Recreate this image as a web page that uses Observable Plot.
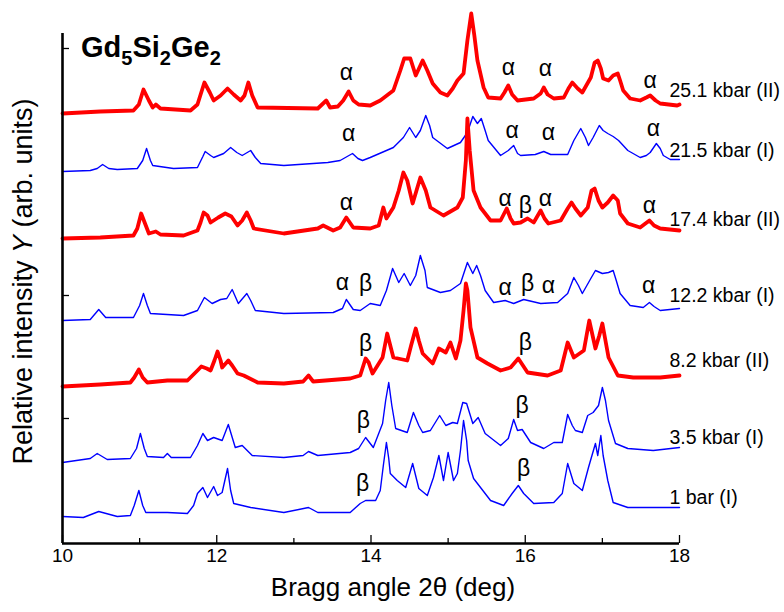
<!DOCTYPE html>
<html><head><meta charset="utf-8">
<script src="https://cdn.jsdelivr.net/npm/d3@7"></script>
<script src="https://cdn.jsdelivr.net/npm/@observablehq/plot@0.6"></script>
<style>body{margin:0;background:#fff}</style>
</head><body><div id="chart"></div>
<script>
// 2θ (deg), relative intensity (arb. units, stacked)
const t25 = [[10.00,430],[10.49,432],[10.92,433],[10.99,439],[11.05,454],[11.12,443],[11.17,436],[11.21,439],[11.27,435],[11.66,433],[11.75,439],[11.84,461],[11.91,451],[11.96,443],[12.05,448],[12.14,455],[12.22,449],[12.31,443],[12.36,448],[12.41,461],[12.46,448],[12.53,436],[13.31,435],[13.42,443],[13.47,436],[13.57,437],[13.64,443],[13.71,452],[13.77,443],[13.84,439],[13.99,438],[14.12,443],[14.29,453],[14.38,473],[14.43,485],[14.51,485],[14.58,468],[14.67,483],[14.73,473],[14.80,460],[14.90,451],[14.99,448],[15.06,455],[15.12,463],[15.20,470],[15.25,503],[15.30,530],[15.34,508],[15.38,483],[15.46,456],[15.52,446],[15.68,445],[15.73,451],[15.78,458],[15.83,449],[15.90,443],[16.11,445],[16.20,450],[16.24,456],[16.29,449],[16.37,445],[16.50,446],[16.56,455],[16.61,461],[16.68,455],[16.74,451],[16.85,466],[16.90,481],[16.94,483],[16.98,475],[17.01,465],[17.08,463],[17.14,468],[17.20,470],[17.23,463],[17.27,453],[17.36,445],[17.49,443],[17.57,446],[17.62,448],[17.69,443],[17.75,440],[17.97,438],[18.00,439]];
const t21 = [[10.00,372],[10.36,373],[10.45,375],[10.52,379],[10.60,375],[10.71,374],[10.97,375],[11.04,383],[11.09,395],[11.14,383],[11.17,378],[11.44,375],[11.75,376],[11.82,387],[11.85,392],[11.92,388],[11.96,386],[12.09,390],[12.18,396],[12.26,391],[12.33,388],[12.44,393],[12.50,386],[12.57,380],[12.87,378],[13.44,381],[13.60,383],[13.76,390],[13.83,385],[13.89,383],[13.99,386],[14.29,396],[14.42,406],[14.50,416],[14.58,406],[14.64,413],[14.71,428],[14.76,418],[14.80,406],[14.99,395],[15.16,401],[15.25,411],[15.32,427],[15.38,420],[15.43,425],[15.48,413],[15.52,403],[15.68,388],[15.78,393],[15.85,398],[15.90,390],[15.94,388],[16.13,389],[16.24,392],[16.33,389],[16.55,389],[16.63,403],[16.72,415],[16.78,406],[16.82,398],[16.88,406],[16.96,418],[17.01,413],[17.07,410],[17.14,407],[17.21,403],[17.33,393],[17.49,386],[17.57,388],[17.62,391],[17.70,400],[17.75,395],[17.79,388],[17.88,384],[18.00,384]];
const t17 = [[10.00,305],[10.49,306],[10.92,308],[10.97,315],[11.02,330],[11.08,318],[11.12,310],[11.21,312],[11.27,309],[11.57,308],[11.75,313],[11.79,321],[11.83,331],[11.88,328],[11.92,321],[12.02,326],[12.11,330],[12.19,327],[12.27,318],[12.33,323],[12.39,331],[12.44,323],[12.48,315],[12.87,310],[13.31,315],[13.38,318],[13.51,313],[13.60,316],[13.68,326],[13.77,316],[13.99,315],[14.10,318],[14.16,336],[14.20,325],[14.29,336],[14.36,353],[14.42,371],[14.47,363],[14.54,340],[14.59,353],[14.64,366],[14.71,353],[14.77,336],[14.94,328],[15.12,336],[15.19,346],[15.23,383],[15.25,425],[15.28,393],[15.33,353],[15.42,336],[15.55,323],[15.68,323],[15.76,335],[15.81,325],[15.85,320],[15.94,321],[16.03,325],[16.11,321],[16.20,333],[16.25,325],[16.30,320],[16.46,323],[16.55,335],[16.60,341],[16.65,335],[16.72,328],[16.81,336],[16.86,353],[16.90,355],[16.95,343],[17.00,336],[17.07,341],[17.14,348],[17.20,343],[17.23,330],[17.33,320],[17.49,316],[17.61,323],[17.67,318],[17.75,315],[18.00,313]];
const t12 = [[10.00,223],[10.36,224],[10.47,234],[10.56,226],[10.92,226],[11.00,238],[11.05,250],[11.10,238],[11.14,230],[11.57,228],[11.75,233],[11.84,246],[11.94,240],[12.05,244],[12.13,245],[12.20,254],[12.28,240],[12.39,250],[12.44,243],[12.50,233],[12.87,230],[13.51,231],[13.63,235],[13.68,244],[13.77,234],[13.86,233],[13.99,240],[14.12,238],[14.20,253],[14.28,275],[14.36,261],[14.43,270],[14.51,258],[14.58,268],[14.64,288],[14.70,273],[14.73,256],[14.90,251],[15.03,253],[15.16,260],[15.25,281],[15.32,270],[15.37,278],[15.42,268],[15.48,253],[15.59,241],[15.74,243],[15.85,240],[15.98,244],[16.20,240],[16.42,241],[16.55,250],[16.63,266],[16.69,258],[16.74,250],[16.85,265],[16.91,273],[17.00,270],[17.08,271],[17.14,273],[17.18,263],[17.23,250],[17.36,238],[17.53,236],[17.61,241],[17.67,237],[17.75,233],[18.00,235]];
const t8 = [[10.00,157],[10.49,159],[10.88,161],[10.93,166],[10.99,174],[11.04,166],[11.10,161],[11.36,163],[11.62,163],[11.75,173],[11.80,177],[11.87,175],[11.92,173],[11.97,183],[12.01,192],[12.05,183],[12.07,176],[12.15,183],[12.20,178],[12.27,170],[12.35,168],[12.53,161],[12.87,160],[13.12,162],[13.19,168],[13.25,162],[13.73,165],[13.86,168],[13.93,185],[13.97,181],[14.02,170],[14.15,186],[14.21,210],[14.29,186],[14.47,183],[14.52,198],[14.58,215],[14.62,203],[14.67,190],[14.80,180],[14.88,195],[14.97,191],[15.03,201],[15.10,185],[15.16,203],[15.20,233],[15.23,260],[15.25,253],[15.29,216],[15.38,186],[15.51,180],[15.68,173],[15.81,176],[15.91,185],[16.03,171],[16.29,168],[16.46,173],[16.55,201],[16.63,186],[16.76,193],[16.83,223],[16.91,195],[16.96,208],[17.00,220],[17.08,186],[17.20,168],[17.40,166],[17.75,166],[18.00,168]];
const t3 = [[10.00,81],[10.36,85],[10.45,90],[10.58,84],[10.88,85],[10.96,95],[11.01,110],[11.06,95],[11.10,87],[11.31,86],[11.36,90],[11.41,86],[11.66,86],[11.75,98],[11.82,110],[11.88,103],[11.96,106],[12.07,103],[12.15,119],[12.24,96],[12.33,98],[12.46,88],[12.87,86],[13.12,88],[13.19,92],[13.31,88],[13.73,91],[13.84,95],[13.93,106],[14.03,96],[14.15,120],[14.19,143],[14.23,161],[14.27,138],[14.32,115],[14.47,111],[14.55,131],[14.62,118],[14.67,111],[14.77,113],[14.89,128],[14.97,118],[15.06,121],[15.12,120],[15.19,141],[15.24,140],[15.32,120],[15.39,126],[15.48,110],[15.68,98],[15.78,105],[15.85,124],[15.90,113],[15.96,114],[16.07,101],[16.24,95],[16.37,101],[16.48,101],[16.55,129],[16.61,118],[16.65,113],[16.74,111],[16.81,128],[16.88,131],[16.95,138],[17.00,156],[17.04,143],[17.08,123],[17.17,100],[17.33,95],[17.66,93],[18.00,96]];
const t1 = [[10.00,27],[10.27,26],[10.47,32],[10.71,27],[10.88,28],[10.93,38],[10.99,53],[11.04,38],[11.08,31],[11.36,31],[11.62,30],[11.70,38],[11.75,50],[11.82,56],[11.88,46],[11.96,57],[12.01,48],[12.07,51],[12.14,75],[12.18,53],[12.22,40],[12.44,36],[12.87,31],[13.19,36],[13.31,31],[13.73,31],[13.86,40],[13.93,43],[14.06,43],[14.12,53],[14.16,78],[14.20,101],[14.23,85],[14.25,70],[14.34,63],[14.45,56],[14.54,80],[14.62,55],[14.73,48],[14.81,66],[14.88,88],[14.94,63],[15.00,91],[15.07,63],[15.12,70],[15.16,93],[15.20,123],[15.24,103],[15.26,83],[15.33,65],[15.42,56],[15.55,43],[15.72,38],[15.83,50],[15.91,58],[15.98,50],[16.11,40],[16.37,41],[16.48,50],[16.55,80],[16.63,60],[16.74,53],[16.82,76],[16.91,100],[16.94,88],[16.98,108],[17.01,88],[17.07,63],[17.14,41],[17.33,36],[17.75,36],[18.00,36]];

const pressureLabels = ["25.1 kbar (II)", "21.5 kbar (I)", "17.4 kbar (II)", "12.2 kbar (I)", "8.2 kbar (II)", "3.5 kbar (I)", "1 bar (I)"];
const pressureY = [453, 393, 324, 248, 183, 106, 46];
const pressureX = 17.87;

const phaseText = ["α","α","α","α", "α","α","α","α", "α","α","β","α","α", "α","β","α","β","α","α", "β","β", "β","β", "β","β"];
const phaseX = [13.68,15.78,16.26,17.62, 13.71,15.83,16.30,17.66, 13.68,15.74,16.00,16.26,17.61, 13.63,13.93,15.74,16.03,16.30,17.60, 13.93,16.00, 13.90,15.96, 13.89,15.98];
const phaseY = [471,476,475,463, 410,413,411,415, 341,345,338,345,338, 261,260,256,260,258,258, 200,201, 123,138, 60,75];

const xMajor = [10, 12, 14, 16, 18];
const xMinor = [11, 13, 15, 17];
const yTicks = [125, 248, 495];

const FONT = "'Liberation Sans', Arial, Helvetica, sans-serif";
const RED = "#ff0000", BLUE = "#0000ff";
const phases = phaseText.map((t, i) => ({t, x: phaseX[i], y: phaseY[i]}));
const labels = pressureLabels.map((t, i) => ({t, x: pressureX, y: pressureY[i]}));
const line = (data, color, w) => Plot.line(data, {x: d => d[0], y: d => d[1], stroke: color, strokeWidth: w, strokeLinejoin: "round"});

const chart = Plot.plot({
  width: 784, height: 612,
  marginLeft: 62, marginRight: 105, marginTop: 33, marginBottom: 69,
  x: {domain: [10, 18]},
  y: {domain: [0, 510]},
  style: {fontFamily: FONT, background: "#fff", color: "#000", overflow: "visible"},
  marks: [
    line(t21, BLUE, 1.4), line(t12, BLUE, 1.4), line(t3, BLUE, 1.4), line(t1, BLUE, 1.4),
    line(t25, RED, 3.8), line(t17, RED, 3.8), line(t8, RED, 3.8),
    Plot.axisX(xMajor, {tickSize: -8, tickFormat: () => "", label: null, strokeWidth: 1.3}),
    Plot.axisX(xMinor, {tickSize: -5, tickFormat: () => "", label: null, strokeWidth: 1.3}),
    Plot.text(xMajor, {x: d => d, frameAnchor: "bottom", dy: 18, fontSize: 19, fill: "#000"}),
    Plot.axisY(yTicks, {tickSize: -7, tickFormat: () => "", label: null, strokeWidth: 1.3}),
    Plot.ruleX([10], {strokeWidth: 2.6}),
    Plot.ruleY([0], {strokeWidth: 2.6}),
    Plot.text(phases, {x: "x", y: "y", text: "t", fontSize: 23, fill: "#000"}),
    Plot.text(labels, {x: "x", y: "y", text: "t", fontSize: 19.5, textAnchor: "start", fill: "#000"}),
    Plot.text(["Bragg angle 2θ (deg)"], {frameAnchor: "bottom", dx: 22, dy: 52, fontSize: 26, fill: "#000"}),
    Plot.text(["Relative intensity "], {frameAnchor: "left", textAnchor: "middle", dx: -39, dy: -7, rotate: -90, fontSize: 27, fill: "#000", text: d => d})
  ]
});
document.getElementById("chart").appendChild(chart);

// y-axis label with italic Y, built as rich text
const svg = d3.select(chart);
svg.selectAll("text").filter(function() { return this.textContent === "Relative intensity "; })
  .each(function() {
    const el = d3.select(this);
    el.text(null);
    el.append("tspan").text("Relative intensity ");
    el.append("tspan").attr("font-style", "italic").text("Y");
    el.append("tspan").text(" (arb. units)");
  });

// compound title with subscripts
const title = svg.append("text").attr("x", 81).attr("y", 57).attr("text-anchor", "start")
  .attr("font-family", FONT).attr("font-weight", "bold").attr("font-size", 29).attr("fill", "#000");
[["Gd", false], ["5", true], ["Si", false], ["2", true], ["Ge", false], ["2", true]].forEach(([s, sub], i) => {
  const ts = title.append("tspan").text(s);
  if (sub) ts.attr("font-size", 20).attr("dy", 8);
  else if (i > 0) ts.attr("dy", -8);
});
</script>
</body></html>
